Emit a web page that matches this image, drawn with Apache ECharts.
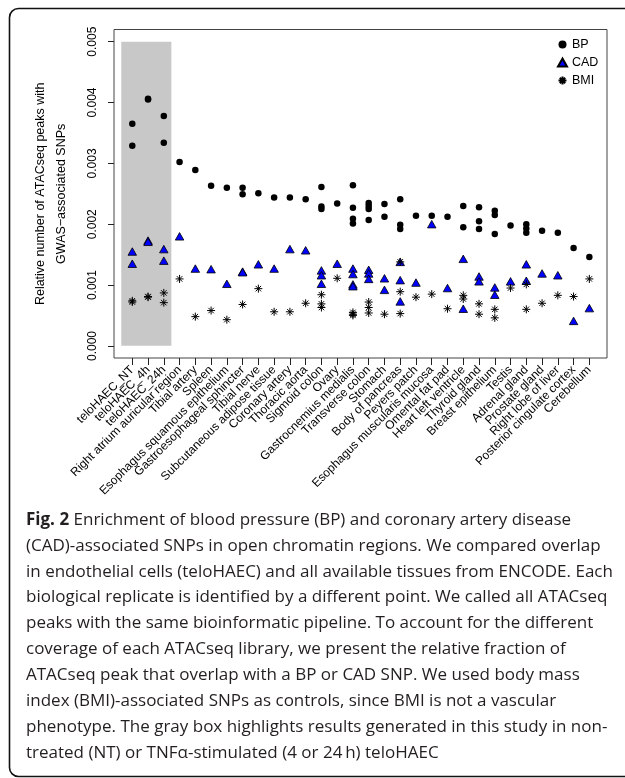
<!DOCTYPE html>
<html><head><meta charset="utf-8">
<script src="https://cdn.jsdelivr.net/npm/echarts@6/dist/echarts.min.js"></script>
<style>html,body{margin:0;padding:0;background:#fff}#c{width:625px;height:778px}</style>
</head><body><div id="c"></div>
<script>
// ---- data ----
const categories = ['teloHAEC_NT','teloHAEC_4h','teloHAEC_24h','Right atrium auricular region','Tibial artery','Spleen','Esophagus squamous epithelium','Gastroesophageal sphincter','Tibial nerve','Subcutaneous adipose tissue','Coronary artery','Thoracic aorta','Sigmoid colon','Ovary','Gastrocnemius medialis','Transverse colon','Stomach','Body of pancreas','Peyers patch','Esophagus muscularis mucosa','Omental fat pad','Heart left ventricle','Thyroid gland','Breast epithelium','Testis','Adrenal gland','Prostate gland','Right lobe of liver','Posterior cingulate cortex','Cerebellum'];

const bpValues = [
  [0.00365,0.00329],[0.00406,0.00405],[0.00378,0.00334],[0.00302],[0.00289],[0.00263],[0.00260],[0.00260,0.00249],[0.00251],[0.00244],
  [0.00244],[0.00241],[0.00261,0.00229,0.00225],[0.00234],[0.00264,0.00227,0.00209,0.00201],[0.00235,0.00230,0.00225,0.00207],[0.00233,0.00212],[0.00241,0.00199,0.00192],[0.00214],[0.00214],
  [0.00212],[0.00230,0.00195],[0.00228,0.00205,0.00192],[0.00222,0.00215,0.00184],[0.00198],[0.00200,0.00193,0.00186],[0.00189],[0.00186],[0.00161],[0.00146]
];
const cadValues = [
  [0.00155,0.00135],[0.00173,0.00171],[0.00159,0.00140],[0.00180],[0.00127],[0.00126],[0.00102],[0.00122,0.00121],[0.00134],[0.00127],
  [0.00159],[0.00157],[0.00124,0.00116,0.00102],[0.00135],[0.00127,0.00118,0.00101,0.00098],[0.00125,0.00119,0.00110],[0.00111,0.00092],[0.00138,0.00108,0.00073],[0.00104],[0.00200],
  [0.00095],[0.00143,0.00061],[0.00114,0.00106],[0.00096,0.00084],[0.00106],[0.00134,0.00107],[0.00119],[0.00116],[0.00041],[0.00062]
];
const bmiValues = [
  [0.00074,0.00072],[0.00081,0.00080],[0.00087,0.00071],[0.00110],[0.00048],[0.00058],[0.00043],[0.00068],[0.00094],[0.00056],
  [0.00056],[0.00070],[0.00084,0.00069,0.00063],[0.00111],[0.00055,0.00052,0.00050],[0.00072,0.00063,0.00054],[0.00052],[0.00138,0.00089,0.00053],[0.00080],[0.00085],
  [0.00061],[0.00083,0.00077],[0.00069,0.00052],[0.00060,0.00046],[0.00095],[0.00101,0.00060],[0.00070],[0.00083],[0.00081],[0.00110]
];
const yTickValues = [0, 0.001, 0.002, 0.003, 0.004, 0.005];
const highlightedCategories = [1, 3];   // teloHAEC_NT .. teloHAEC_24h
const seriesNames = ['BP', 'CAD', 'BMI'];
const yTitle = 'Relative number of ATACseq peaks with\nGWAS\u2212associated SNPs';
const captionLines = [
  'Enrichment of blood pressure (BP) and coronary artery disease',
  '(CAD)-associated SNPs in open chromatin regions. We compared overlap',
  'in endothelial cells (teloHAEC) and all available tissues from ENCODE. Each',
  'biological replicate is identified by a different point. We called all ATACseq',
  'peaks with the same bioinformatic pipeline. To account for the different',
  'coverage of each ATACseq library, we present the relative fraction of',
  'ATACseq peak that overlap with a BP or CAD SNP. We used body mass',
  'index (BMI)-associated SNPs as controls, since BMI is not a vascular',
  'phenotype. The gray box highlights results generated in this study in non-',
  'treated (NT) or TNF\u03b1-stimulated (4 or 24\u2009h) teloHAEC'
];
const captionLabel = 'Fig. 2';

// ---- build ----
function toPoints(arr) {
  const out = [];
  arr.forEach((vals, i) => vals.forEach(v => out.push([i + 1, v])));
  return out;
}
const font = '"Liberation Sans", Arial, sans-serif';
const capFont = '"Open Sans", "Noto Sans", sans-serif';
const starPath = 'path://M5,0L5,10M0,5L10,5M1.6,1.6L8.4,8.4M1.6,8.4L8.4,1.6';

const chart = echarts.init(document.getElementById('c'), null, {renderer: 'canvas'});
const option = {
  animation: false,
  backgroundColor: '#ffffff',
  grid: [
    {left: 114, top: 29.5, width: 493, height: 328.5, show: true, borderColor: '#444', borderWidth: 1, backgroundColor: 'rgba(0,0,0,0)'},
    {left: 124.42, top: 29.5, width: 472.8, height: 328.5},
    {left: 114, top: 41.67, width: 493, height: 304.3}
  ],
  xAxis: [
    {gridIndex: 0, type: 'value', min: -0.16, max: 31.12, show: false},
    {gridIndex: 1, type: 'category', data: categories, boundaryGap: true,
      axisLine: {show: false},
      axisTick: {show: true, alignWithLabel: true, length: 7, lineStyle: {color: '#222'}},
      axisLabel: {interval: 0, rotate: 45, margin: 10, fontSize: 12, fontFamily: font, color: '#000'},
      splitLine: {show: false}},
    {gridIndex: 2, type: 'value', show: false}
  ],
  yAxis: [
    {gridIndex: 0, type: 'value', min: -0.0002, max: 0.0052, show: false},
    {gridIndex: 1, type: 'value', show: false},
    {gridIndex: 2, type: 'value', min: yTickValues[0], max: yTickValues[yTickValues.length - 1], interval: 0.001,
      axisLine: {show: false},
      axisTick: {show: true, length: 6, lineStyle: {color: '#222'}},
      splitLine: {show: false},
      axisLabel: {rotate: 90, margin: 15, fontSize: 12, fontFamily: font, color: '#000', formatter: v => v.toFixed(3)},
      name: yTitle, nameLocation: 'middle', nameRotate: 90, nameGap: 42,
      nameTextStyle: {fontSize: 12.5, fontFamily: font, color: '#000', lineHeight: 21}}
  ],
  legend: {
    data: seriesNames, orient: 'vertical', left: 552, top: 33,
    itemWidth: 9, itemHeight: 8, itemGap: 5,
    textStyle: {fontSize: 12.5, fontFamily: font, color: '#000'}
  },
  series: [
    {type: 'custom', name: 'highlight', xAxisIndex: 0, yAxisIndex: 0, silent: true, z: 1,
      data: [[highlightedCategories[0] - 0.7, yTickValues[yTickValues.length - 1], highlightedCategories[1] + 0.48, yTickValues[0]]],
      renderItem: (params, api) => {
        const p1 = api.coord([api.value(0), api.value(1)]);
        const p2 = api.coord([api.value(2), api.value(3)]);
        return {type: 'rect', shape: {x: p1[0], y: p1[1], width: p2[0] - p1[0], height: p2[1] - p1[1]}, style: {fill: '#c8c8c8'}};
      }},
    {type: 'scatter', name: 'BP', xAxisIndex: 0, yAxisIndex: 0, z: 3, data: toPoints(bpValues),
      symbol: 'circle', symbolSize: 6.5, itemStyle: {color: '#000', opacity: 1}},
    {type: 'scatter', name: 'CAD', xAxisIndex: 0, yAxisIndex: 0, z: 4, data: toPoints(cadValues),
      symbol: 'triangle', symbolSize: [8.5, 7.5], itemStyle: {color: '#0000ff', borderColor: '#000', borderWidth: 0.8, opacity: 1}},
    {type: 'scatter', name: 'BMI', xAxisIndex: 0, yAxisIndex: 0, z: 5, data: toPoints(bmiValues),
      symbol: starPath, symbolSize: 8, itemStyle: {color: '#000', borderColor: '#000', borderWidth: 1, opacity: 1}}
  ],
  graphic: [
    {type: 'rect', z: 100, silent: true, shape: {x: 9.5, y: 8.5, width: 660, height: 768, r: 9}, style: {fill: 'none', stroke: '#111', lineWidth: 1.6}},
    {type: 'text', z: 100, left: 26, top: 507, silent: true,
      style: {
        text: '{b|' + captionLabel + '} ' + captionLines.join('\n'),
        font: '17px ' + capFont, fontSize: 17, fontFamily: capFont, lineHeight: 25.9, fill: '#231f20',
        rich: {b: {fontWeight: 'bold', fontSize: 17, fontFamily: capFont, lineHeight: 25.9, fill: '#231f20'}}
      }}
  ]
};
chart.setOption(option);
</script>
</body></html>
